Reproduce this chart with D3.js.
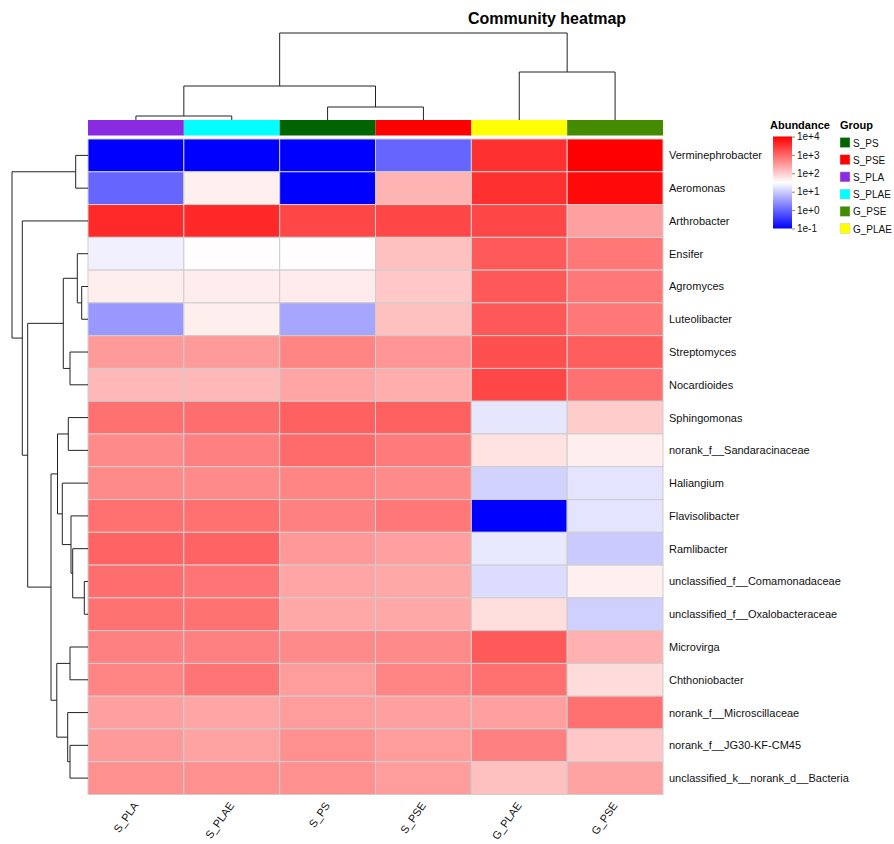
<!DOCTYPE html>
<html>
<head>
<meta charset="utf-8">
<script src="https://cdn.jsdelivr.net/npm/d3@7/dist/d3.min.js"></script>
<style>
  html, body { margin: 0; padding: 0; background: #ffffff; }
  svg { display: block; font-family: "Liberation Sans", Arial, sans-serif; }
</style>
</head>
<body>
<svg id="chart" width="894" height="844"></svg>
<script>
// Samples (columns, in clustered order) and their groups
const samples = ["S_PLA", "S_PLAE", "S_PS", "S_PSE", "G_PLAE", "G_PSE"];

// Taxa (rows, in clustered order)
const taxa = [
  "Verminephrobacter", "Aeromonas", "Arthrobacter", "Ensifer", "Agromyces",
  "Luteolibacter", "Streptomyces", "Nocardioides", "Sphingomonas",
  "norank_f__Sandaracinaceae", "Haliangium", "Flavisolibacter", "Ramlibacter",
  "unclassified_f__Comamonadaceae", "unclassified_f__Oxalobacteraceae",
  "Microvirga", "Chthoniobacter", "norank_f__Microscillaceae",
  "norank_f__JG30-KF-CM45", "unclassified_k__norank_d__Bacteria"
];

// log10(abundance), one row per taxon, columns follow `samples`
const logAbundance = [
  [-1.00, -1.00, -1.00, 0.00, 3.53, 4.00],
  [0.00, 1.65, -1.00, 2.24, 3.53, 3.90],
  [3.60, 3.60, 3.30, 3.30, 3.30, 2.43],
  [1.35, 1.52, 1.52, 2.12, 3.12, 2.82],
  [1.67, 1.68, 1.70, 2.05, 3.14, 2.82],
  [0.49, 1.67, 0.63, 2.12, 3.14, 2.82],
  [2.49, 2.49, 2.70, 2.54, 3.22, 3.08],
  [2.20, 2.20, 2.38, 2.30, 3.30, 2.90],
  [2.90, 2.92, 3.06, 3.06, 1.25, 2.00],
  [2.65, 2.75, 2.96, 2.80, 1.78, 1.67],
  [2.65, 2.65, 2.70, 2.65, 1.06, 1.24],
  [2.90, 2.90, 2.75, 2.82, -1.00, 1.24],
  [3.03, 3.03, 2.50, 2.43, 1.27, 0.98],
  [2.92, 2.85, 2.38, 2.35, 1.16, 1.65],
  [2.88, 2.88, 2.35, 2.35, 1.82, 1.04],
  [2.75, 2.75, 2.65, 2.65, 3.12, 2.27],
  [2.70, 2.85, 2.47, 2.70, 2.90, 1.84],
  [2.43, 2.38, 2.47, 2.43, 2.43, 2.90],
  [2.49, 2.41, 2.59, 2.47, 2.75, 2.05],
  [2.59, 2.59, 2.59, 2.47, 2.12, 2.41]
];

// Group annotation (legend order) and colours
const groupNames = ["S_PS", "S_PSE", "S_PLA", "S_PLAE", "G_PSE", "G_PLAE"];
const groupColors = ["#006400", "#FF0000", "#8A2BE2", "#00FFFF", "#458B00", "#FFFF00"];

// Legend ticks (log10 values)
const legendTicks = [4, 3, 2, 1, 0, -1];

// Row clustering: [mergeHeight, left, right]; leaves are row indices
const rowTree = [7.6,
  [1.23, 0, 1],
  [6.57,
    2,
    [6.03,
      [2.47,
        [1.07, 3, [0.63, 4, 5]],
        [1.80, 6, 7]],
      [3.70,
        [3.05,
          [1.97, 8, 9],
          [2.57, 10, [1.70, 11, [1.53, 12, [0.37, 13, 14]]]]],
        [3.12,
          [1.80, 15, 16],
          [2.03, 17, [1.80, 18, 19]]]]]]];

// Column clustering: [mergeHeight, left, right]; leaves are column indices
const colTree = [87,
  [34, [4, 0, 1], [13, 2, 3]],
  [48, 4, 5]];

const svg = d3.select("#chart");

// Layout
const heat = { left: 88, right: 663, top: 139, bottom: 794.5 };
const x = d3.scaleBand().domain(samples).range([heat.left, heat.right]);
const y = d3.scaleBand().domain(taxa).range([heat.top, heat.bottom]);

const color = d3.scaleLinear().domain([-1, 1.5, 4])
  .range(["#0000FF", "#FFFFFF", "#FF0000"]).clamp(true);

// Title
svg.append("text")
  .attr("x", 547).attr("y", 24)
  .attr("text-anchor", "middle")
  .attr("font-size", 16).attr("font-weight", "bold")
  .text("Community heatmap");

// Heatmap cells
const cells = [];
taxa.forEach((t, i) => samples.forEach((s, j) => cells.push({ t, s, v: logAbundance[i][j] })));
svg.append("g").selectAll("rect").data(cells).join("rect")
  .attr("x", d => x(d.s)).attr("y", d => y(d.t))
  .attr("width", x.bandwidth()).attr("height", y.bandwidth())
  .attr("fill", d => color(d.v))
  .attr("stroke", "#cdcdcd").attr("stroke-width", 1);

// Group annotation strip
const groupColor = d3.scaleOrdinal().domain(groupNames).range(groupColors);
svg.append("g").selectAll("rect").data(samples).join("rect")
  .attr("x", d => x(d)).attr("y", 120)
  .attr("width", x.bandwidth()).attr("height", 15.5)
  .attr("fill", d => groupColor(d));

// Row labels
svg.append("g").selectAll("text").data(taxa).join("text")
  .attr("x", heat.right + 6)
  .attr("y", d => y(d) + y.bandwidth() / 2 + 4)
  .attr("font-size", 11).attr("fill", "#111")
  .text(d => d);

// Column labels
svg.append("g").selectAll("text").data(samples).join("text")
  .attr("text-anchor", "end")
  .attr("font-size", 11).attr("fill", "#111")
  .attr("transform", d => `translate(${x(d) + x.bandwidth() / 2 + 3},${heat.bottom + 11}) rotate(-55)`)
  .text(d => d);

// Dendrogram drawing: returns the leaf-axis position of a node
function drawTree(node, g, leafPos, hScale, horizontal) {
  if (!Array.isArray(node)) return { pos: leafPos(node), h: 0 };
  const [h, l, r] = node;
  const a = drawTree(l, g, leafPos, hScale, horizontal);
  const b = drawTree(r, g, leafPos, hScale, horizontal);
  const hp = hScale(h);
  const pts = [[a.pos, hScale(a.h)], [a.pos, hp], [b.pos, hp], [b.pos, hScale(b.h)]];
  const line = horizontal ? pts.map(p => [p[1], p[0]]) : pts;
  g.append("path")
    .attr("d", d3.line()(line))
    .attr("fill", "none").attr("stroke", "#222").attr("stroke-width", 1);
  return { pos: (a.pos + b.pos) / 2, h };
}

const rowH = d3.scaleLinear().domain([0, rowTree[0]]).range([heat.left, 12]);
drawTree(rowTree, svg.append("g"), i => y(taxa[i]) + y.bandwidth() / 2, rowH, true);

const colH = d3.scaleLinear().domain([0, colTree[0]]).range([120, 33]);
drawTree(colTree, svg.append("g"), j => x(samples[j]) + x.bandwidth() / 2, colH, false);

// Abundance colour legend
const defs = svg.append("defs");
const grad = defs.append("linearGradient").attr("id", "abund")
  .attr("x1", 0).attr("y1", 1).attr("x2", 0).attr("y2", 0);
d3.range(0, 1.0001, 0.05).forEach(t => {
  grad.append("stop").attr("offset", t).attr("stop-color", color(-1 + 5 * t));
});
const legY = d3.scaleLinear().domain([-1, 4]).range([228.5, 136.5]);
svg.append("text").attr("x", 770).attr("y", 128.5)
  .attr("font-size", 11).attr("font-weight", "bold").text("Abundance");
svg.append("rect").attr("x", 773).attr("y", legY(4))
  .attr("width", 19).attr("height", legY(-1) - legY(4))
  .attr("fill", "url(#abund)");
const legAxis = d3.axisRight(legY).tickValues(legendTicks).tickSize(3).tickPadding(2)
  .tickFormat(d => "1e" + (d < 0 ? "-" : "+") + Math.abs(d));
const ag = svg.append("g").attr("transform", "translate(792,0)").call(legAxis);
ag.select(".domain").remove();
ag.selectAll(".tick line").attr("stroke", "#888");
ag.selectAll(".tick text").attr("font-size", 10).attr("fill", "#111")
  .attr("font-family", "Liberation Sans, Arial, sans-serif");

// Group legend
svg.append("text").attr("x", 840).attr("y", 128.5)
  .attr("font-size", 11).attr("font-weight", "bold").text("Group");
const gl = svg.append("g").selectAll("g").data(groupNames).join("g")
  .attr("transform", (d, i) => `translate(840,${137.5 + i * 17.2})`);
gl.append("rect").attr("width", 10).attr("height", 10)
  .attr("fill", d => groupColor(d)).attr("stroke", "#cccccc").attr("stroke-width", 0.5);
gl.append("text").attr("x", 13).attr("y", 9)
  .attr("font-size", 10).attr("fill", "#111").text(d => d);
</script>
</body>
</html>
